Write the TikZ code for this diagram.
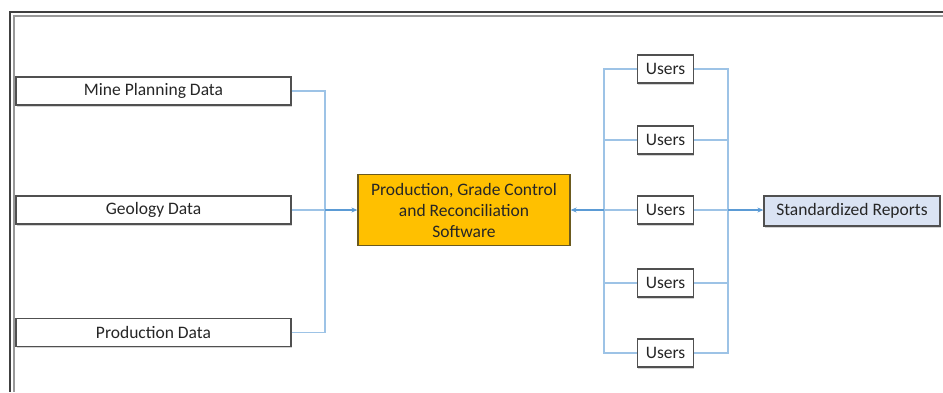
\documentclass[tikz,border=0pt]{standalone}
\usepackage{fontspec}
\setmainfont{Carlito}
\usetikzlibrary{arrows.meta,shadows}
\definecolor{linkblue}{HTML}{9DC3E6}
\definecolor{arrowblue}{HTML}{5B9BD5}
\definecolor{coreorange}{HTML}{FFC000}
\definecolor{coreedge}{HTML}{6B5A1E}
\definecolor{repfill}{HTML}{DAE3F3}
\definecolor{boxedge}{HTML}{505050}
\definecolor{textgray}{HTML}{262626}
\begin{document}
\begin{tikzpicture}[x=1pt,y=-1pt,
  databox/.style={draw=boxedge,line width=1.3pt,fill=white,minimum width=275pt,minimum height=28pt,inner sep=0pt,
    font=\fontsize{17.5}{21}\selectfont,text=textgray,
    drop shadow={shadow xshift=0.6pt,shadow yshift=-1.6pt,opacity=0.35,fill=gray}},
  userbox/.style={databox,minimum width=56pt},
  corebox/.style={draw=coreedge,line width=1.3pt,fill=coreorange,minimum width=212pt,minimum height=71pt,inner sep=0pt,
    align=center,font=\fontsize{17.5}{21}\selectfont,text=textgray},
  repbox/.style={databox,fill=repfill,minimum width=176pt,minimum height=30pt},
  link/.style={draw=linkblue,line width=1.5pt},
  feed/.style={draw=arrowblue,line width=2pt,-{Stealth[length=6pt,width=5pt]}}
]
\useasboundingbox (0,0) rectangle (943,392);
% frame (top and left edges)
\draw[line width=1.3pt,draw=black!75] (943,12) -- (10,12) -- (10,392);
\draw[line width=1.6pt,draw=black!40] (943,16) -- (14,16) -- (14,392);

% input nodes
\node[databox] (mp)  at (153.5,91)  {Mine Planning Data};
\node[databox] (geo) at (153.5,210) {Geology Data};
\node[databox] (pd)  at (153.5,332.5) {Production Data};

% core
\node[corebox] (core) at (464,210) {Production, Grade Control\\and Reconciliation\\Software};

% users
\node[userbox] (u1) at (665.5,69)  {Users};
\node[userbox] (u2) at (665.5,140) {Users};
\node[userbox] (u3) at (665.5,210) {Users};
\node[userbox] (u4) at (665.5,283) {Users};
\node[userbox] (u5) at (665.5,353) {Users};

% report
\node[repbox] (rep) at (852,211) {Standardized Reports};

% bus junctions
\coordinate (jl) at (325,210);
\coordinate (jm) at (604,210);
\coordinate (jr) at (728,210);

% left side connectors
\draw[link] (mp.east) -| (jl);
\draw[link] (pd.east) -| (jl);
\draw[link] (geo.east) -- (jl);
\draw[feed] (jl) -- (core.west);

% users left bus
\draw[link] (u1.west) -| (jm);
\draw[link] (u2.west) -| (jm);
\draw[link] (u4.west) -| (jm);
\draw[link] (u5.west) -| (jm);
\draw[link] (u3.west) -- (jm);
\draw[feed] (jm) -- (core.east);

% users right bus
\draw[link] (u1.east) -| (jr);
\draw[link] (u2.east) -| (jr);
\draw[link] (u4.east) -| (jr);
\draw[link] (u5.east) -| (jr);
\draw[link] (u3.east) -- (jr);
\draw[feed] (jr) -- (rep.west |- jr);
\end{tikzpicture}
\end{document}
